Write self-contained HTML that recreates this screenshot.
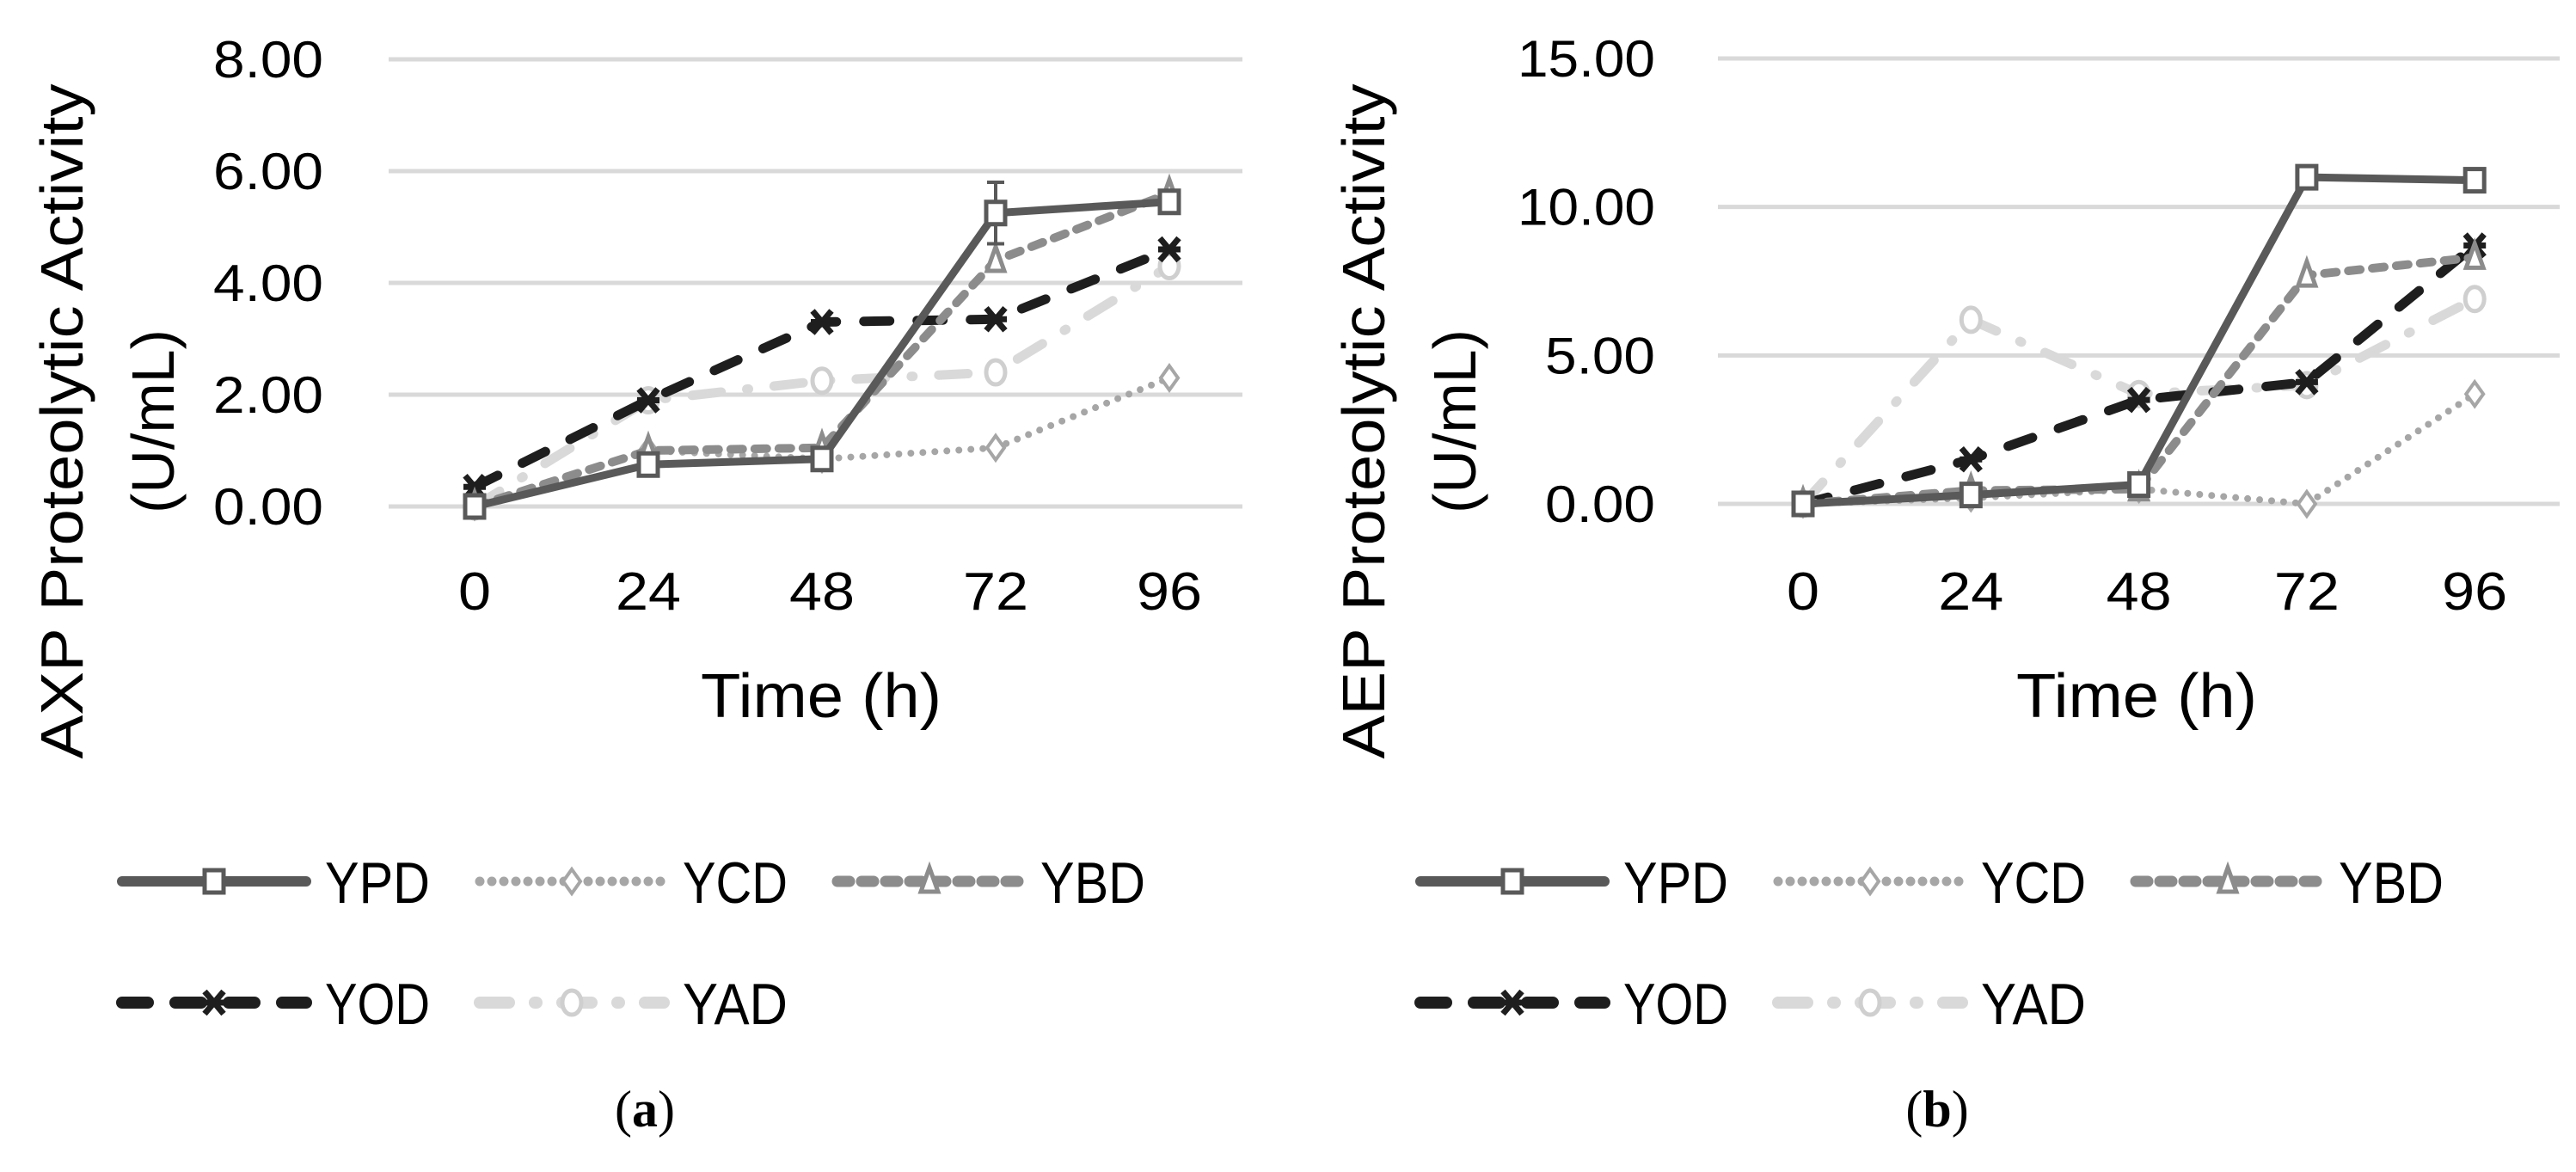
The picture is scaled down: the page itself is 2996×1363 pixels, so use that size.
<!DOCTYPE html>
<html><head><meta charset="utf-8"><style>
html,body{margin:0;padding:0;background:#fff;}
svg{display:block;}
text{font-family:"Liberation Sans Narrow","Liberation Sans",sans-serif;}
</style></head><body>
<svg id="fig" width="2996" height="1363" viewBox="0 0 2996 1363" xmlns="http://www.w3.org/2000/svg"></svg>
<script>
// Shared data
const categories = [0, 24, 48, 72, 96];
const seriesNames = ["YPD", "YCD", "YBD", "YOD", "YAD"];
// Panel (a) AXP
const aYPD = [0, 0.75, 0.85, 5.25, 5.45];
const aYCD = [0, 1.0, 0.85, 1.05, 2.3];
const aYBD = [0, 1.0, 1.05, 4.4, 5.6];
const aYOD = [0.35, 1.9, 3.3, 3.35, 4.6];
const aYAD = [0, 1.9, 2.25, 2.4, 4.3];
const aErrYPD = [0, 0.1, 0.1, 0.55, 0.15];
const aTicks = ["0.00", "2.00", "4.00", "6.00", "8.00"];
const aTickValues = [0, 2, 4, 6, 8];
// Panel (b) AEP
const bYPD = [0, 0.3, 0.65, 11.0, 10.9];
const bYCD = [0, 0.2, 0.5, 0, 3.7];
const bYBD = [0, 0.45, 0.5, 7.7, 8.3];
const bYOD = [0, 1.5, 3.5, 4.1, 8.7];
const bYAD = [0, 6.2, 3.7, 4.0, 6.9];
const bTicks = ["0.00", "5.00", "10.00", "15.00"];
const bTickValues = [0, 5, 10, 15];

const NS = "http://www.w3.org/2000/svg";
const svg = document.getElementById("fig");
function mk(tag, attrs, parent) {
  const e = document.createElementNS(NS, tag);
  for (const k in attrs) e.setAttribute(k, attrs[k]);
  (parent || svg).appendChild(e);
  return e;
}
const styles = {
  YPD: {color: "#595959", dash: "", cap: "round", w: 9, marker: "square"},
  YCD: {color: "#a6a6a6", dash: "0 14", cap: "round", w: 8, marker: "diamond"},
  YBD: {color: "#8c8c8c", dash: "14 14", cap: "round", w: 10, marker: "triangle"},
  YOD: {color: "#1e1e1e", dash: "30 32", cap: "round", w: 11, marker: "star"},
  YAD: {color: "#d9d9d9", dash: "34 30 2 30", cap: "round", w: 11, marker: "circle"}
};
function marker(g, type, x, y, color) {
  let m;
  if (type === "square") m = mk("rect", {x: x-11, y: y-13, width: 22, height: 26, fill: "#fff", stroke: color, "stroke-width": 5}, g);
  else if (type === "diamond") m = mk("polygon", {points: `${x},${y-14} ${x+10},${y} ${x},${y+14} ${x-10},${y}`, fill: "#fff", stroke: color, "stroke-width": 4}, g);
  else if (type === "triangle") m = mk("polygon", {points: `${x},${y-16} ${x+10},${y+12} ${x-10},${y+12}`, fill: "#fff", stroke: color, "stroke-width": 5}, g);
  else if (type === "star") {
    m = mk("path", {d: `M${x-11},${y-13}L${x+11},${y+13}M${x+11},${y-13}L${x-11},${y+13}M${x-13},${y}L${x+13},${y}`, stroke: color, "stroke-width": 7, fill: "none"}, g);
  } else m = mk("ellipse", {cx: x, cy: y, rx: 11, ry: 14, fill: "#fff", stroke: color, "stroke-width": 5}, g);
  
  
}

function panel(cfg) {
  const g = mk("g", {});
  
  
  const yS = v => cfg.y0 - (v / cfg.ymax) * (cfg.y0 - cfg.yTop);
  const xS = i => cfg.x0 + i * cfg.dx;
  cfg.tickValues.forEach((v, i) => {
    const l = mk("line", {x1: cfg.gx1, x2: cfg.gx2, y1: yS(v), y2: yS(v), stroke: "#d9d9d9", "stroke-width": 5}, g);
    
    
    const lab = cfg.ticks[i];
    const t = mk("text", {x: cfg.tickRight, y: yS(v) + 21, "text-anchor": "end", "font-size": 60, fill: "#000", textLength: lab.length * 32, lengthAdjust: "spacingAndGlyphs"}, g);
    t.textContent = lab;
    
    
  });
  categories.forEach((c, i) => {
    const t = mk("text", {x: xS(i), y: 709, "text-anchor": "middle", "font-size": 62, fill: "#000", textLength: String(c).length * 38, lengthAdjust: "spacingAndGlyphs"}, g);
    t.textContent = c;
    
    
  });
  const xt = mk("text", {x: cfg.xTitleX, y: 834, "text-anchor": "middle", "font-size": 72, fill: "#000", textLength: 280, lengthAdjust: "spacingAndGlyphs"}, g);
  xt.textContent = "Time (h)";
  
  
  const yt = mk("text", {transform: `translate(${cfg.yTitleX},490) rotate(-90)`, "text-anchor": "middle", "font-size": 70, fill: "#000", textLength: 785, lengthAdjust: "spacingAndGlyphs", style: "font-family:'Liberation Sans',sans-serif"}, g);
  yt.textContent = cfg.yTitle1;
  
  
  const yt2 = mk("text", {transform: `translate(${cfg.yTitleX + 106},490) rotate(-90)`, "text-anchor": "middle", "font-size": 70, fill: "#000", style: "font-family:'Liberation Sans',sans-serif"}, g);
  yt2.textContent = "(U/mL)";
  
  

  const order = ["YAD", "YCD", "YOD", "YBD", "YPD"];
  order.forEach(n => {
    const s = styles[n], vals = cfg.series[n];
    const pts = vals.map((v, i) => `${xS(i)},${yS(v)}`).join(" ");
    const pl = mk("polyline", {points: pts, fill: "none", stroke: s.color, "stroke-width": s.w, "stroke-dasharray": s.dash, "stroke-linecap": s.cap, "stroke-linejoin": "round"}, g);
    
    
    if (n === "YPD" && cfg.err) {
      vals.forEach((v, i) => {
        const e = cfg.err[i]; if (!e) return;
        const eb = mk("path", {d: `M${xS(i)},${yS(v+e)}V${yS(v-e)}M${xS(i)-10},${yS(v+e)}H${xS(i)+10}M${xS(i)-10},${yS(v-e)}H${xS(i)+10}`, stroke: s.color, "stroke-width": 4, fill: "none"}, g);
        
        
      });
    }
    vals.forEach((v, i) => marker(g, s.marker, xS(i), yS(v), n === "YAD" ? "#cfcfcf" : s.color));
  });

  // legend
  const rows = [[["YPD", 0], ["YCD", 416], ["YBD", 832]], [["YOD", 0], ["YAD", 416]]];
  const rowY = [1025, 1166];
  rows.forEach((r, ri) => r.forEach(([n, off]) => {
    const s = styles[n];
    const lg = mk("g", {}, g);
    
    
    const x1 = cfg.legX + off, x2 = x1 + 222, y = rowY[ri];
    mk("line", {x1: x1 + 4, x2: x2 - 4, y1: y, y2: y, stroke: s.color, "stroke-width": s.w + 3, "stroke-dasharray": s.dash, "stroke-linecap": "round"}, lg);
    marker(lg, s.marker, (x1 + x2) / 2, y, n === "YAD" ? "#cfcfcf" : s.color);
    const t = mk("text", {x: x2 + 18, y: y + 25, "font-size": 68, fill: "#000", textLength: 122, lengthAdjust: "spacingAndGlyphs"}, lg);
    t.textContent = n;
  }));
  const cap = mk("text", {x: cfg.capX, y: 1310, "text-anchor": "middle", "font-size": 60, fill: "#000", style: "font-family:'Liberation Serif',serif"}, g);
  cap.innerHTML = '(<tspan font-weight="bold">' + cfg.cap + '</tspan>)';
  
  
}

panel({name: "chart-a", x0: 552, dx: 202, y0: 589, yTop: 69, ymax: 8, gx1: 452, gx2: 1445,
  tickRight: 376, tickValues: aTickValues, ticks: aTicks, xTitleX: 955, yTitleX: 96,
  yTitle1: "AXP Proteolytic Activity",
  series: {YPD: aYPD, YCD: aYCD, YBD: aYBD, YOD: aYOD, YAD: aYAD}, err: aErrYPD,
  legX: 138, capX: 750, cap: "a"});
panel({name: "chart-b", x0: 2097, dx: 195.3, y0: 586, yTop: 68, ymax: 15, gx1: 1998, gx2: 2977,
  tickRight: 1925, tickValues: bTickValues, ticks: bTicks, xTitleX: 2485, yTitleX: 1610,
  yTitle1: "AEP Proteolytic Activity",
  series: {YPD: bYPD, YCD: bYCD, YBD: bYBD, YOD: bYOD, YAD: bYAD}, err: null,
  legX: 1648, capX: 2253, cap: "b"});
</script>
</body></html>
